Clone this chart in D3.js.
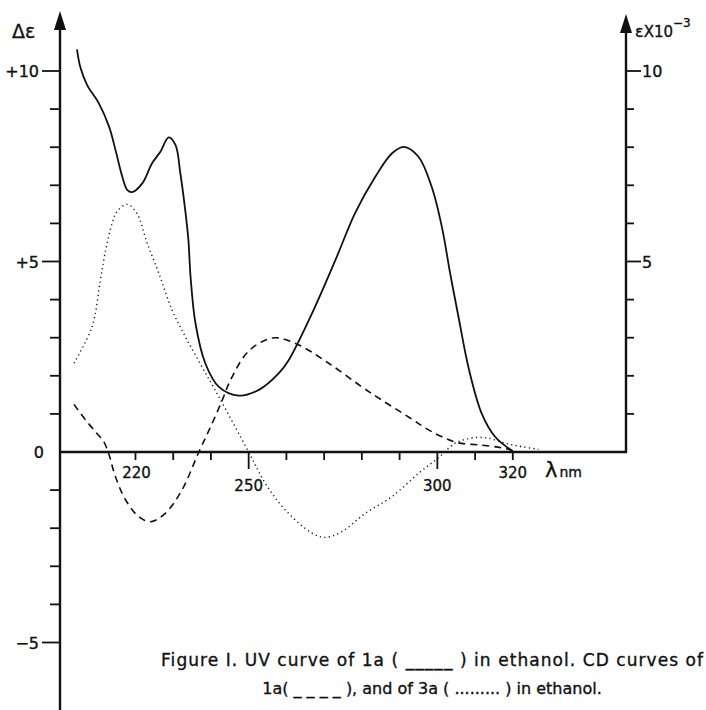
<!DOCTYPE html>
<html>
<head>
<meta charset="utf-8">
<script src="https://cdn.jsdelivr.net/npm/d3@7"></script>
<style>
  body { margin: 0; background: #fff; }
  text { font-family: "DejaVu Sans", sans-serif; fill: #111; stroke: #111; stroke-width: 0.35; }
</style>
</head>
<body>
<svg></svg>
<script>
const width = 706;
const height = 710;

// UV of 1a (solid), read on the right axis (same scale as the left one)
const uvWl = [204.5, 205.4, 207.2, 210.3, 213, 214.7, 216.5, 217.8, 219.1, 221.8, 224.4, 226.6, 228.8, 230.6,
  231.9, 233.0, 234.0, 234.6, 235.9, 238.5, 242.1, 247.4, 252.7, 258, 260.6, 266.8, 273, 278.2, 283.6,
  288, 291.1, 295, 298.5, 301.2, 303.4, 305.6, 308.3, 311.8, 315.3, 320];
const uvEps = [10.57, 10.1, 9.63, 9.15, 8.54, 7.93, 7.23, 6.88, 6.82, 7.05, 7.58, 7.88, 8.26, 8.06,
  7.31, 6.5, 5.6, 4.6, 3.38, 2.33, 1.71, 1.48, 1.63, 2.07, 2.41, 3.64, 5.04, 6.27, 7.23,
  7.84, 8.01, 7.75, 6.96, 5.91, 4.69, 3.55, 2.2, 1.0, 0.4, 0.02];

// CD of 1a (dashed)
const cd1Wl = [203.7, 206.8, 209.4, 211.6, 212.9, 214.7, 217.4, 220.9, 224, 227.9, 232.3, 236.8, 239.9, 243,
  245, 249.1, 252.7, 257.1, 263.3, 271.2, 280, 285.3, 293, 297, 301.2, 305.6, 311.8, 317.1, 319.7];
const cd1De = [1.25, 0.84, 0.53, 0.27, -0.04, -0.65, -1.26, -1.7, -1.83, -1.61, -1.0, 0, 0.66, 1.36,
  1.85, 2.55, 2.85, 3.0, 2.81, 2.33, 1.71, 1.36, 0.88, 0.62, 0.4, 0.24, 0.18, 0.11, 0.05];

// CD of 3a (dotted)
const cd3Wl = [203.7, 208.5, 210.7, 212.1, 213.8, 215.1, 217.8, 220.4, 223.1, 226.2, 229.7, 233.2, 237.6, 242.1,
  250, 254.4, 259.7, 266.8, 270.3, 274.7, 280.9, 288, 295, 300.3, 304.5, 307, 310, 313.6, 318, 322.4, 326.8];
const cd3De = [2.33, 3.29, 4.51, 5.3, 6.0, 6.31, 6.5, 6.26, 5.48, 4.69, 3.73, 3.03, 2.24, 1.45,
  0, -0.82, -1.52, -2.13, -2.24, -2.09, -1.61, -1.17, -0.56, -0.15, 0.22, 0.32, 0.38, 0.36, 0.23, 0.14, 0.07];

const xTicks = [220, 230, 240, 250, 260, 270, 280, 290, 300, 310, 320];
const xLabels = [220, 250, 300, 320];
const leftTicks = [-5, -4, -3, -2, -1, 1, 2, 3, 4, 5, 6, 7, 8, 9, 10];
const leftLabels = [{ v: 10, t: "+10" }, { v: 5, t: "+5" }, { v: 0, t: "0" }, { v: -5, t: "\u22125" }];
const rightTicks = [1, 2, 3, 4, 5, 6, 7, 8, 9, 10];
const rightLabels = [10, 5];

const captionLines = [
  "Figure I. UV curve of 1a ( _____ ) in ethanol. CD curves of",
  "1a( _ _ _ _ ), and of 3a ( ......... ) in  ethanol."
];

const svg = d3.select("svg")
  .attr("width", width)
  .attr("height", height);

const x = d3.scaleLinear().domain([200, 350]).range([60, 626]);
const y = d3.scaleLinear().domain([0, 10]).range([452, 71]);

const leftX = x(200), rightX = x(350), baseY = y(0);

// axes lines
svg.append("line")
  .attr("x1", leftX).attr("x2", leftX)
  .attr("y1", 24).attr("y2", height)
  .attr("stroke", "#111").attr("stroke-width", 2.4);

svg.append("line")
  .attr("x1", rightX).attr("x2", rightX)
  .attr("y1", 27).attr("y2", baseY + 1)
  .attr("stroke", "#111").attr("stroke-width", 2.4);

svg.append("line")
  .attr("x1", leftX).attr("x2", rightX + 1)
  .attr("y1", baseY).attr("y2", baseY)
  .attr("stroke", "#111").attr("stroke-width", 2.4);

// arrow heads
svg.append("path")
  .attr("d", `M${leftX},11 L${leftX - 6},30 L${leftX + 6},30 Z`)
  .attr("fill", "#111");
svg.append("path")
  .attr("d", `M${rightX},14 L${rightX - 6},33 L${rightX + 6},33 Z`)
  .attr("fill", "#111");

// left ticks
svg.append("g").selectAll("line")
  .data(leftTicks)
  .enter()
  .append("line")
  .attr("x1", d => d % 5 === 0 ? leftX - 18 : leftX - 10)
  .attr("x2", leftX)
  .attr("y1", d => y(d)).attr("y2", d => y(d))
  .attr("stroke", "#111").attr("stroke-width", 1.8);

svg.append("g").selectAll("text")
  .data(leftLabels)
  .enter()
  .append("text")
  .attr("x", d => d.v === 0 ? 44 : 39)
  .attr("y", d => y(d.v) + 6)
  .attr("text-anchor", "end")
  .attr("font-size", 16)
  .text(d => d.t);

// right ticks
svg.append("g").selectAll("line")
  .data(rightTicks)
  .enter()
  .append("line")
  .attr("x1", rightX)
  .attr("x2", d => d % 5 === 0 ? rightX + 15 : rightX + 8)
  .attr("y1", d => y(d)).attr("y2", d => y(d))
  .attr("stroke", "#111").attr("stroke-width", 1.8);

svg.append("g").selectAll("text")
  .data(rightLabels)
  .enter()
  .append("text")
  .attr("x", rightX + 16)
  .attr("y", d => y(d) + 6)
  .attr("font-size", 16)
  .text(d => d);

// bottom ticks
svg.append("g").selectAll("line")
  .data(xTicks)
  .enter()
  .append("line")
  .attr("x1", d => x(d)).attr("x2", d => x(d))
  .attr("y1", baseY)
  .attr("y2", d => d % 50 === 0 ? baseY + 17 : baseY + 8)
  .attr("stroke", "#111").attr("stroke-width", 1.8);

svg.append("g").selectAll("text")
  .data(xLabels)
  .enter()
  .append("text")
  .attr("x", d => x(d) + (d === 220 ? 1 : 0))
  .attr("y", d => d % 50 === 0 ? baseY + 39 : baseY + 26)
  .attr("text-anchor", "middle")
  .attr("font-size", 15)
  .text(d => d);

// axis titles
svg.append("text")
  .attr("x", 12).attr("y", 38)
  .attr("font-size", 19)
  .text("\u0394\u025B");

const rTitle = svg.append("text")
  .attr("x", 635).attr("y", 37)
  .attr("font-size", 16);
rTitle.append("tspan").text("\u025B");
rTitle.append("tspan").attr("font-size", 15).text("X10");
rTitle.append("tspan").attr("dy", -10).attr("font-size", 12).text("\u22123");

const lam = svg.append("text")
  .attr("x", 545).attr("y", 477);
lam.append("tspan").attr("font-size", 21).text("\u03BB");
lam.append("tspan").attr("font-size", 14).attr("dx", 2).text("nm");

// curves
const line = d3.line()
  .x(d => x(d[0]))
  .y(d => y(d[1]))
  .curve(d3.curveCatmullRom.alpha(0.5));

svg.append("path")
  .datum(d3.zip(uvWl, uvEps))
  .attr("d", line)
  .attr("fill", "none")
  .attr("stroke", "#111")
  .attr("stroke-width", 1.8);

svg.append("path")
  .datum(d3.zip(cd1Wl, cd1De))
  .attr("d", line)
  .attr("fill", "none")
  .attr("stroke", "#111")
  .attr("stroke-width", 1.6)
  .attr("stroke-dasharray", "7,5");

svg.append("path")
  .datum(d3.zip(cd3Wl, cd3De))
  .attr("d", line)
  .attr("fill", "none")
  .attr("stroke", "#111")
  .attr("stroke-width", 1.4)
  .attr("stroke-dasharray", "1.2,3.3");

// caption
const caption = svg.append("g");

caption.append("text")
  .attr("x", 432)
  .attr("y", 666)
  .attr("text-anchor", "middle")
  .attr("font-size", 17)
  .attr("textLength", 542)
  .attr("lengthAdjust", "spacing")
  .text(captionLines[0]);

caption.append("text")
  .attr("x", 432)
  .attr("y", 694)
  .attr("text-anchor", "middle")
  .attr("font-size", 16)
  .text(captionLines[1]);
</script>
</body>
</html>
